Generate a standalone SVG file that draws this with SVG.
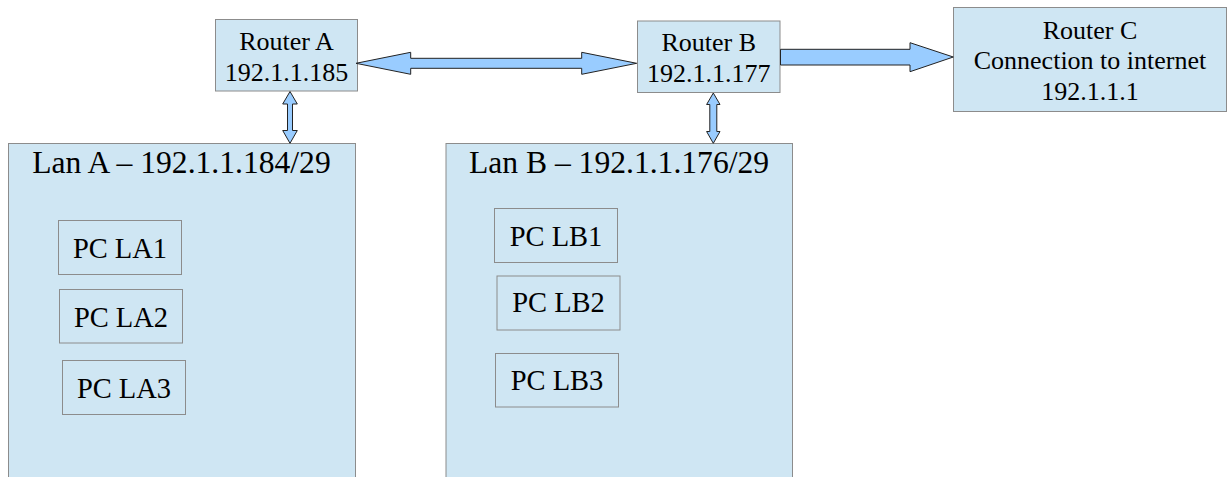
<svg xmlns="http://www.w3.org/2000/svg" width="1231" height="477" viewBox="0 0 1231 477">
<style>
.box{fill:#cfe6f3;stroke:#8c8c8c;stroke-width:1}
.pc{fill:#cfe6f3;stroke:#8c8c8c;stroke-width:1}
.arr{fill:#99ccff;stroke:#222;stroke-width:1;stroke-linejoin:miter}
.t{font-family:'Liberation Serif','DejaVu Serif',serif;fill:#000;text-anchor:middle}
.r{font-size:26px}
.lan{font-size:31.6px}
.p{font-size:28.5px}
</style>
<rect width="1231" height="477" fill="#fff"/>
<g id="lanA">
<rect class="box" x="8.5" y="143.5" width="347" height="340"/>
<text class="t lan" font-family="Liberation Serif, serif" x="181.5" y="173.3">Lan A – 192.1.1.184/29</text>
</g>
<g id="lanB">
<rect class="box" x="446" y="143.5" width="346.5" height="340"/>
<text class="t lan" font-family="Liberation Serif, serif" x="619" y="173.3">Lan B – 192.1.1.176/29</text>
</g>
<g id="pcLA1"><rect class="pc" x="58.5" y="220.5" width="123" height="54"/><text class="t p" font-family="Liberation Serif, serif" x="120" y="257.7">PC LA1</text></g>
<g id="pcLA2"><rect class="pc" x="59.5" y="289.5" width="123" height="53.5"/><text class="t p" font-family="Liberation Serif, serif" x="121" y="326.7">PC LA2</text></g>
<g id="pcLA3"><rect class="pc" x="62.5" y="360.5" width="123" height="54"/><text class="t p" font-family="Liberation Serif, serif" x="124" y="397.7">PC LA3</text></g>
<g id="pcLB1"><rect class="pc" x="494.5" y="208.5" width="123" height="54"/><text class="t p" font-family="Liberation Serif, serif" x="556" y="246">PC LB1</text></g>
<g id="pcLB2"><rect class="pc" x="497" y="276" width="123" height="54"/><text class="t p" font-family="Liberation Serif, serif" x="558.5" y="312.3">PC LB2</text></g>
<g id="pcLB3"><rect class="pc" x="495.5" y="353.5" width="123" height="53.5"/><text class="t p" font-family="Liberation Serif, serif" x="557" y="390">PC LB3</text></g>
<g id="routerA">
<rect class="box" x="215.5" y="19.5" width="142" height="71.5"/>
<text class="t r" font-family="Liberation Serif, serif" x="286.5" y="50">Router A</text>
<text class="t r" font-family="Liberation Serif, serif" x="286.5" y="80.6">192.1.1.185</text>
</g>
<g id="routerB">
<rect class="box" x="637.5" y="21" width="142.5" height="71.5"/>
<text class="t r" font-family="Liberation Serif, serif" x="708.7" y="51">Router B</text>
<text class="t r" font-family="Liberation Serif, serif" x="708.7" y="81.7">192.1.1.177</text>
</g>
<g id="routerC">
<rect class="box" x="953.5" y="7.5" width="273" height="104"/>
<text class="t r" font-family="Liberation Serif, serif" x="1090" y="39">Router C</text>
<text class="t r" font-family="Liberation Serif, serif" x="1090" y="69">Connection to internet</text>
<text class="t r" font-family="Liberation Serif, serif" x="1090" y="100">192.1.1.1</text>
</g>
<g id="connectors">
<polygon class="arr" points="356,63.3 410.7,52.3 410.7,58.3 581.7,58.3 581.7,52.3 636.7,63.3 581.7,74.3 581.7,68.3 410.7,68.3 410.7,74.3"/>
<polygon class="arr" points="780.5,49.3 910,49.3 910,42.7 953.3,57 910,71.7 910,65 780.5,65"/>
<polygon class="arr" points="290,91.5 297.3,104 292.5,104 292.5,130.5 297.3,130.5 290,143.3 282.7,130.5 287.5,130.5 287.5,104 282.7,104"/>
<polygon class="arr" points="713.3,93 720,104.5 716.8,104.5 716.8,131.5 720,131.5 713.3,143.3 706.6,131.5 709.8,131.5 709.8,104.5 706.6,104.5"/>
</g>
</svg>
